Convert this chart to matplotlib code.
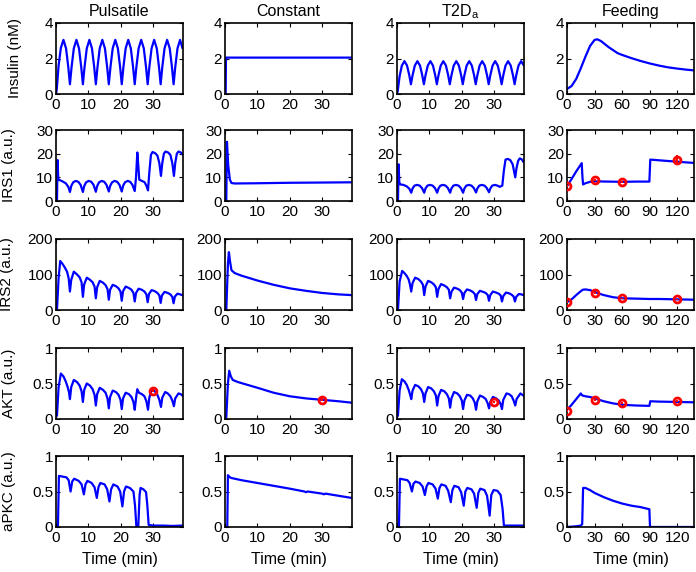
import matplotlib
matplotlib.use('Agg')
import matplotlib.pyplot as plt

plt.rcParams['font.family'] = ['Liberation Sans', 'DejaVu Sans']
plt.rcParams['font.size'] = 11

# column titles and row labels
col_titles = ['Pulsatile', 'Constant', 'T2D$_\\mathregular{a}$', 'Feeding']
row_labels = ['Insulin (nM)', 'IRS1 (a.u.)', 'IRS2 (a.u.)', 'AKT (a.u.)', 'aPKC (a.u.)']
row_ylims = [4, 30, 200, 1, 1]
row_yticks = [[0, 2, 4], [0, 10, 20, 30], [0, 100, 200], [0, 0.5, 1], [0, 0.5, 1]]
row_yticklabels = [['0', '2', '4'], ['0', '10', '20', '30'], ['0', '100', '200'],
                   ['0', '0.5', '1'], ['0', '0.5', '1']]

# ---------------- Pulsatile ----------------
t_ins_p = [0, 0.25, 0.8, 1.5, 2.3, 3.1, 3.8, 4.3,
           4.8, 5.5, 6.3, 7.1, 7.8, 8.3,
           8.8, 9.5, 10.3, 11.1, 11.8, 12.3,
           12.8, 13.5, 14.3, 15.1, 15.8, 16.3,
           16.8, 17.5, 18.3, 19.1, 19.8, 20.3,
           20.8, 21.5, 22.3, 23.1, 23.8, 24.3,
           24.8, 25.5, 26.3, 27.1, 27.8, 28.3,
           28.8, 29.5, 30.3, 31.1, 31.8, 32.3,
           32.8, 33.5, 34.3, 35.1, 35.8, 36.3,
           36.8, 37.5, 38.3, 39.0]
ins_p = [0, 0.3, 1.6, 2.6, 3.05, 2.57, 1.5, 0.55,
         1.5, 2.57, 3.05, 2.57, 1.5, 0.55,
         1.5, 2.57, 3.05, 2.57, 1.5, 0.55,
         1.5, 2.57, 3.05, 2.57, 1.5, 0.55,
         1.5, 2.57, 3.05, 2.57, 1.5, 0.55,
         1.5, 2.57, 3.05, 2.57, 1.5, 0.55,
         1.5, 2.57, 3.05, 2.57, 1.5, 0.55,
         1.5, 2.57, 3.05, 2.57, 1.5, 0.55,
         1.5, 2.57, 3.05, 2.57, 1.5, 0.55,
         1.5, 2.57, 3.05, 2.6]

t_irs1_p = [0, 0.3, 0.5, 0.7, 1.0, 2.0, 3.0, 3.8, 4.3,
            4.7, 5.3, 6.1, 6.9, 7.6, 8.3,
            8.7, 9.3, 10.1, 10.9, 11.6, 12.3,
            12.7, 13.3, 14.1, 14.9, 15.6, 16.3,
            16.7, 17.3, 18.1, 18.9, 19.6, 20.3,
            20.7, 21.3, 22.1, 22.9, 23.6, 24.3,
            24.7, 25.1, 25.4, 25.7, 26.5, 27.3, 27.9, 28.4,
            28.8, 29.3, 29.8, 30.6, 31.3, 31.9, 32.4,
            32.8, 33.3, 33.8, 34.6, 35.3, 35.9, 36.4,
            36.8, 37.3, 37.8, 38.5, 39.0]
irs1_p = [0, 0, 17.3, 9.0, 8.9, 8.3, 7.5, 6.0, 3.8,
          6.3, 7.9, 8.5, 8.1, 6.8, 3.8,
          6.3, 7.9, 8.5, 8.1, 6.8, 3.9,
          6.3, 7.9, 8.5, 8.1, 6.8, 4.0,
          6.3, 7.9, 8.5, 8.1, 6.8, 4.0,
          6.4, 7.9, 8.5, 8.1, 6.8, 4.2,
          10, 20.5, 15, 9.0, 8.5, 8.0, 6.5, 4.5,
          12, 19.5, 20.7, 20.2, 19.2, 16, 10.6,
          16, 20, 20.9, 20.5, 19.5, 16, 10.6,
          16, 20, 20.9, 20.5, 19.8]

t_irs2_p = [0, 0.3, 0.8, 1.3, 2.0, 2.7, 3.4, 3.9, 4.3,
            4.7, 5.5, 6.5, 7.3, 7.9, 8.3,
            8.7, 9.5, 10.5, 11.3, 11.9, 12.3,
            12.7, 13.5, 14.5, 15.3, 15.9, 16.3,
            16.7, 17.5, 18.5, 19.3, 19.9, 20.3,
            20.7, 21.5, 22.5, 23.3, 23.9, 24.3,
            24.7, 25.5, 26.5, 27.3, 27.9, 28.3,
            28.7, 29.5, 30.5, 31.3, 31.9, 32.3,
            32.7, 33.5, 34.5, 35.3, 35.9, 36.3,
            36.7, 37.5, 38.3, 39.0]
irs2_p = [0, 0, 90, 138, 130, 120, 108, 90, 52,
          85, 108, 100, 92, 78, 37,
          72, 91, 85, 78, 66, 33,
          64, 82, 77, 70, 59, 29,
          57, 71, 67, 61, 52, 26,
          53, 66, 62, 57, 48, 24,
          48, 60, 57, 52, 44, 22,
          45, 56, 53, 48, 41, 20,
          41, 51, 48, 44, 37, 19,
          38, 46, 44, 42]

t_akt_p = [0, 0.3, 0.8, 1.5, 2.3, 3.0, 3.6, 4.0, 4.3,
           4.7, 5.5, 6.5, 7.3, 7.9, 8.3,
           8.7, 9.5, 10.5, 11.3, 11.9, 12.3,
           12.7, 13.5, 14.5, 15.3, 15.9, 16.3,
           16.7, 17.5, 18.5, 19.3, 19.9, 20.3,
           20.7, 21.5, 22.5, 23.3, 23.9, 24.3,
           24.8, 25.1, 25.6, 26.5, 27.3, 27.9, 28.4,
           28.8, 29.6, 30.5, 31.3, 31.9, 32.4,
           32.8, 33.7, 34.5, 35.3, 35.9, 36.4,
           36.8, 37.8, 38.5, 39.0]
akt_p = [0.03, 0.05, 0.45, 0.64, 0.6, 0.53, 0.45, 0.38, 0.28,
         0.45, 0.55, 0.52, 0.47, 0.39, 0.24,
         0.41, 0.50, 0.47, 0.42, 0.34, 0.19,
         0.35, 0.44, 0.41, 0.37, 0.29, 0.15,
         0.31, 0.40, 0.38, 0.34, 0.27, 0.14,
         0.29, 0.37, 0.35, 0.31, 0.24, 0.13,
         0.33, 0.42, 0.37, 0.35, 0.32, 0.25, 0.13,
         0.30, 0.42, 0.39, 0.34, 0.27, 0.17,
         0.30, 0.38, 0.36, 0.32, 0.26, 0.18,
         0.29, 0.36, 0.35, 0.33]

t_apkc_p = [0, 0.6, 0.9, 2.0, 3.2, 3.9, 4.5, 5.0, 5.6, 7.0, 7.9, 8.6, 9.1, 9.7,
            11.0, 11.9, 12.6, 13.1, 13.7, 15.0, 15.8, 16.5, 17.0, 17.7, 19.0,
            19.8, 20.5, 21.0, 21.6, 22.8, 23.9, 24.4, 24.8, 25.4, 25.8, 26.1,
            27.0, 27.8, 28.2, 28.6, 30, 33, 36, 39]
apkc_p = [0, 0, 0.72, 0.71, 0.70, 0.66, 0.50, 0.64, 0.68, 0.65, 0.60, 0.46, 0.60, 0.65,
          0.62, 0.56, 0.41, 0.56, 0.62, 0.60, 0.53, 0.36, 0.53, 0.60, 0.57,
          0.50, 0.29, 0.50, 0.57, 0.55, 0.50, 0.30, 0.01, 0.01, 0.45, 0.55,
          0.53, 0.49, 0.30, 0.03, 0.02, 0.02, 0.015, 0.02]

# ---------------- Constant ----------------
t_ins_c = [0, 0.2, 0.3, 39]
ins_c = [0, 0, 2.05, 2.05]
t_irs1_c = [0, 0.4, 0.6, 1.0, 1.5, 2.0, 3, 10, 20, 30, 39]
irs1_c = [0, 0, 25, 15, 9, 7.6, 7.4, 7.5, 7.7, 7.8, 7.9]
t_irs2_c = [0, 0.4, 0.9, 1.2, 1.5, 2.0, 3.0, 5, 10, 15, 20, 25, 30, 35, 39]
irs2_c = [0, 0, 130, 163, 140, 112, 104, 97, 83, 71, 61, 54, 48, 44, 42]
t_akt_c = [0, 0.4, 0.9, 1.3, 1.8, 2.4, 4, 7, 10, 15, 20, 25, 30, 35, 39]
akt_c = [0, 0.02, 0.5, 0.68, 0.6, 0.55, 0.52, 0.48, 0.44, 0.37, 0.32, 0.29, 0.27, 0.25, 0.23]
t_apkc_c = [0, 0.7, 0.9, 1.5, 2.0, 5, 10, 15, 20, 24.5, 25, 25.5, 30, 30.5, 31, 35, 39]
apkc_c = [0, 0, 0.73, 0.70, 0.69, 0.66, 0.62, 0.58, 0.54, 0.5, 0.49, 0.5, 0.47, 0.46, 0.47, 0.44, 0.41]

# ---------------- T2D ----------------
t_ins_t = t_ins_p
ins_t = [0, 0.2, 1.0, 1.6, 1.85, 1.6, 1.05, 0.55,
         1.05, 1.6, 1.85, 1.6, 1.05, 0.55,
         1.05, 1.6, 1.85, 1.6, 1.05, 0.55,
         1.05, 1.6, 1.85, 1.6, 1.05, 0.55,
         1.05, 1.6, 1.85, 1.6, 1.05, 0.55,
         1.05, 1.6, 1.85, 1.6, 1.05, 0.55,
         1.05, 1.6, 1.85, 1.6, 1.05, 0.55,
         1.05, 1.6, 1.85, 1.6, 1.05, 0.55,
         1.05, 1.6, 1.85, 1.6, 1.05, 0.55,
         1.05, 1.6, 1.85, 1.65]

t_irs1_t = [0, 0.3, 0.5, 0.7, 1.0, 2.0, 3.0, 3.8, 4.4,
            4.8, 5.4, 6.2, 7.0, 7.7, 8.4,
            8.8, 9.4, 10.2, 11.0, 11.7, 12.4,
            12.8, 13.4, 14.2, 15.0, 15.7, 16.4,
            16.8, 17.4, 18.2, 19.0, 19.7, 20.4,
            20.8, 21.4, 22.2, 23.0, 23.7, 24.4,
            24.8, 25.4, 26.2, 27.0, 27.7, 28.4,
            28.8, 29.4, 30.2, 31.0, 31.7, 32.5,
            33.0, 33.5, 34.2, 35.0, 35.7, 36.5,
            36.9, 37.4, 37.9, 38.5, 39.0]
irs1_t = [0, 0, 15.5, 8.0, 7.0, 6.8, 6.2, 5.2, 3.5,
          5.3, 6.5, 6.8, 6.5, 5.5, 3.5,
          5.3, 6.5, 6.8, 6.5, 5.5, 3.5,
          5.3, 6.5, 6.8, 6.5, 5.5, 3.5,
          5.3, 6.5, 6.8, 6.5, 5.5, 3.5,
          5.3, 6.5, 6.8, 6.5, 5.5, 3.6,
          5.3, 6.5, 6.8, 6.5, 5.5, 3.7,
          5.3, 6.5, 6.8, 6.5, 6.0, 6.5,
          13, 17.5, 17.8, 17.2, 15.5, 10,
          14, 17, 18, 17.6, 16.6]

t_irs2_t = [0, 0.3, 0.8, 1.6, 2.3, 3.0, 3.6, 4.0, 4.4,
            4.8, 5.6, 6.6, 7.4, 8.0, 8.4,
            8.8, 9.6, 10.6, 11.4, 12.0, 12.4,
            12.8, 13.6, 14.6, 15.4, 16.0, 16.4,
            16.8, 17.6, 18.6, 19.4, 20.0, 20.4,
            20.8, 21.6, 22.6, 23.4, 24.0, 24.4,
            24.8, 25.6, 26.6, 27.4, 28.0, 28.4,
            28.8, 29.6, 30.6, 31.4, 32.0, 32.4,
            32.8, 33.6, 34.6, 35.4, 36.0, 36.4,
            36.8, 37.6, 38.4, 39.0]
irs2_t = [0, 0, 80, 110, 104, 96, 86, 72, 52,
          76, 91, 87, 80, 71, 42,
          66, 82, 78, 72, 64, 37,
          59, 73, 69, 64, 57, 33,
          51, 63, 60, 56, 49, 31,
          48, 58, 55, 51, 45, 28,
          45, 54, 51, 48, 42, 26,
          42, 52, 49, 46, 41, 24,
          39, 49, 47, 43, 38, 24,
          37, 45, 44, 42]

t_akt_t = [0, 0.3, 0.8, 1.5, 2.3, 3.0, 3.6, 4.0, 4.4,
           4.8, 5.6, 6.6, 7.4, 8.0, 8.4,
           8.8, 9.6, 10.6, 11.4, 12.0, 12.4,
           12.8, 13.6, 14.6, 15.4, 16.0, 16.4,
           16.8, 17.6, 18.6, 19.4, 20.0, 20.4,
           20.8, 21.6, 22.6, 23.4, 24.0, 24.4,
           24.8, 25.6, 26.6, 27.4, 28.0, 28.4,
           28.8, 29.6, 30.6, 31.4, 32.0, 32.4,
           32.8, 33.8, 34.6, 35.4, 36.0, 36.5,
           36.9, 38.1, 39.0]
akt_t = [0.03, 0.05, 0.4, 0.56, 0.53, 0.48, 0.41, 0.35, 0.28,
         0.4, 0.48, 0.46, 0.42, 0.36, 0.24,
         0.36, 0.45, 0.43, 0.39, 0.33, 0.19,
         0.32, 0.41, 0.39, 0.35, 0.29, 0.16,
         0.29, 0.38, 0.36, 0.32, 0.26, 0.14,
         0.26, 0.34, 0.33, 0.29, 0.23, 0.13,
         0.25, 0.33, 0.31, 0.28, 0.22, 0.15,
         0.24, 0.31, 0.29, 0.26, 0.21, 0.14,
         0.27, 0.36, 0.35, 0.32, 0.26, 0.19,
         0.28, 0.36, 0.33]

t_apkc_t = [0, 0.6, 0.9, 2.0, 3.2, 3.9, 4.6, 5.1, 5.7, 7.0, 7.9, 8.6, 9.1, 9.7,
            11.0, 11.9, 12.6, 13.1, 13.7, 15.0, 15.8, 16.6, 17.1, 17.7, 19.0,
            19.8, 20.6, 21.1, 21.7, 23.0, 23.8, 24.6, 25.1, 25.7, 27.0, 27.8,
            28.6, 29.1, 29.8, 31.0, 32.0, 32.6, 33.0, 36, 39]
apkc_t = [0, 0, 0.68, 0.67, 0.66, 0.62, 0.50, 0.61, 0.64, 0.62, 0.57, 0.45, 0.57, 0.62,
          0.60, 0.54, 0.40, 0.55, 0.60, 0.58, 0.51, 0.35, 0.52, 0.58, 0.56,
          0.49, 0.30, 0.50, 0.55, 0.53, 0.47, 0.27, 0.48, 0.54, 0.52, 0.44,
          0.16, 0.45, 0.52, 0.51, 0.45, 0.25, 0.02, 0.02, 0.02]

# ---------------- Feeding ----------------
t_ins_f = [0, 5, 10, 15, 20, 25, 30, 33, 37, 45, 55, 60, 70, 80, 90, 100, 110, 120, 130, 138]
ins_f = [0.28, 0.45, 0.85, 1.45, 2.1, 2.7, 3.05, 3.08, 2.98, 2.65, 2.3, 2.2, 2.02, 1.86,
         1.72, 1.6, 1.5, 1.43, 1.37, 1.33]
t_irs1_f = [0, 5, 10, 16, 16.8, 17.5, 20, 25, 30, 45, 60, 75, 89.5, 90.5, 100, 110, 120, 130, 138]
irs1_f = [6.3, 9.3, 12.5, 16, 10, 7.0, 7.5, 8.1, 8.3, 8.2, 8.1, 8.2, 8.2, 17.5, 17.2, 16.9,
          16.6, 16.3, 16.1]
t_irs2_f = [0, 5, 10, 15, 17, 20, 25, 30, 35, 40, 50, 60, 75, 90, 100, 120, 138]
irs2_f = [22, 30, 42, 53, 57, 58, 56, 51, 46, 42, 36, 33, 32, 31, 31, 30, 29]
t_akt_f = [0, 5, 10, 15, 16, 17, 20, 25, 30, 40, 50, 60, 75, 89.5, 90.5, 100, 120, 138]
akt_f = [0.13, 0.2, 0.28, 0.36, 0.34, 0.33, 0.32, 0.31, 0.29, 0.25, 0.22, 0.2, 0.19, 0.185,
         0.25, 0.245, 0.24, 0.235]
t_apkc_f = [0, 10, 15, 16.5, 17.5, 20, 25, 30, 40, 50, 60, 70, 80, 89.5, 90.2, 100, 138]
apkc_f = [0, 0.01, 0.02, 0.04, 0.55, 0.55, 0.52, 0.48, 0.42, 0.37, 0.33, 0.3, 0.28, 0.25,
          0.0, 0.0, 0.0]

# ---------------- experimental data (red) ----------------
akt_p_data_t, akt_p_data, akt_p_err = [30], [0.40], [0.02]
akt_c_data_t, akt_c_data, akt_c_err = [30], [0.27], [0.02]
akt_t_data_t, akt_t_data, akt_t_err = [30], [0.24], [0.02]
feed_data_t = [0, 30, 60, 120]
irs1_f_data, irs1_f_err = [6.3, 8.7, 7.9, 17.3], [0.4, 0.4, 0.4, 2.0]
irs2_f_data, irs2_f_err = [22, 48, 33, 30], [2, 2, 2, 2]
akt_f_data, akt_f_err = [0.11, 0.27, 0.22, 0.25], [0.015, 0.015, 0.015, 0.015]

curves = [
    [(t_ins_p, ins_p), (t_irs1_p, irs1_p), (t_irs2_p, irs2_p), (t_akt_p, akt_p), (t_apkc_p, apkc_p)],
    [(t_ins_c, ins_c), (t_irs1_c, irs1_c), (t_irs2_c, irs2_c), (t_akt_c, akt_c), (t_apkc_c, apkc_c)],
    [(t_ins_t, ins_t), (t_irs1_t, irs1_t), (t_irs2_t, irs2_t), (t_akt_t, akt_t), (t_apkc_t, apkc_t)],
    [(t_ins_f, ins_f), (t_irs1_f, irs1_f), (t_irs2_f, irs2_f), (t_akt_f, akt_f), (t_apkc_f, apkc_f)],
]
points = {
    (0, 3): (akt_p_data_t, akt_p_data, akt_p_err),
    (1, 3): (akt_c_data_t, akt_c_data, akt_c_err),
    (2, 3): (akt_t_data_t, akt_t_data, akt_t_err),
    (3, 1): (feed_data_t, irs1_f_data, irs1_f_err),
    (3, 2): (feed_data_t, irs2_f_data, irs2_f_err),
    (3, 3): (feed_data_t, akt_f_data, akt_f_err),
}

W, H = 696, 572
fig = plt.figure(figsize=(W / 100, H / 100), dpi=100)

col_left = [56, 225, 397, 567]
row_top = [23, 130, 239, 348, 456]
ax_w, ax_h = 127, 71
# ylabel centre (pixels from left edge of figure), per row
ylabel_x = [22, 16, 14, 16, 16]

for c in range(4):
    for r in range(5):
        ax = fig.add_axes([col_left[c] / W, 1 - (row_top[r] + ax_h) / H, ax_w / W, ax_h / H])
        t, y = curves[c][r]
        ax.plot(t, y, color='#0000ff', lw=1.6)
        if (c, r) in points:
            pt, py, pe = points[(c, r)]
            ax.errorbar(pt, py, yerr=pe, fmt='o', color='red', mfc='none', mec='red',
                        ms=5, mew=2, elinewidth=1.5, capsize=0, zorder=5)
        if c == 3:
            ax.set_xlim(0, 138)
            ax.set_xticks([0, 30, 60, 90, 120])
        else:
            ax.set_xlim(0, 39.2)
            ax.set_xticks([0, 10, 20, 30])
        ax.set_ylim(0, row_ylims[r])
        ax.set_yticks(row_yticks[r])
        ax.set_yticklabels(row_yticklabels[r])
        ax.tick_params(direction='in', top=True, right=True, length=3, width=0.8,
                       labelsize=11, pad=3)
        ax.tick_params(axis='y', pad=2)
        for s in ax.spines.values():
            s.set_linewidth(1.2)
        if r == 0:
            ax.set_title(col_titles[c], fontsize=11.5, pad=5)
        if c == 0:
            ax.set_ylabel(row_labels[r], fontsize=11)
            ax.yaxis.set_label_coords((ylabel_x[r] - col_left[0]) / ax_w, 0.5)
        if r == 4:
            ax.set_xlabel('Time (min)', fontsize=11.5, labelpad=5)

fig.savefig('out.png', dpi=100)
